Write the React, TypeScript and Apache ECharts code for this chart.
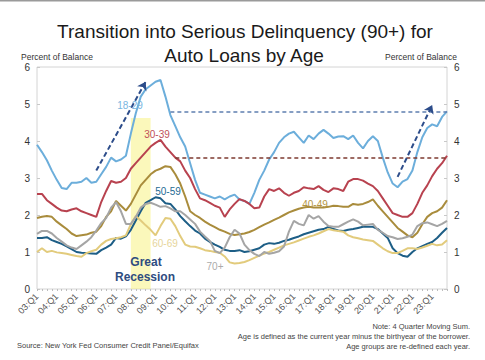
import React, { useEffect, useRef } from "react";
import * as echarts from "echarts";

// Quarterly categories 03:Q1 .. 23:Q4
const years = ["03","04","05","06","07","08","09","10","11","12","13","14","15","16","17","18","19","20","21","22","23"];
const quarters = ["Q1","Q2","Q3","Q4"];
const categories: string[] = [];
years.forEach((y) => quarters.forEach((q) => categories.push(`${y}:${q}`)));

const yTicks = [0, 1, 2, 3, 4, 5, 6];

const s1829 = [
  3.9, 3.7, 3.48, 3.2, 2.95, 2.73, 2.7, 2.87, 2.87, 2.9,
  3.0, 2.87, 2.9, 3.1, 3.3, 3.55, 3.45, 3.5, 3.6, 4.2,
  4.75, 5.2, 5.4, 5.5, 5.6, 5.65, 5.2, 4.7, 4.4, 4.1,
  3.85, 3.4, 2.95, 2.6, 2.55, 2.5, 2.45, 2.5, 2.42, 2.5,
  2.55, 2.42, 2.38, 2.3, 2.6, 2.95, 3.2, 3.5, 3.7, 3.95,
  4.1, 4.2, 4.25, 4.1, 3.95, 4.15, 4.05, 4.2, 4.3, 4.2,
  4.08, 4.12, 4.13, 4.05, 4.15, 3.95, 3.8, 4.0, 4.13, 4.0,
  3.55, 3.15, 2.85, 2.75, 2.9, 2.97, 3.2, 3.7, 4.1, 4.35,
  4.45, 4.4, 4.65, 4.8,
];
const s3039 = [
  2.57, 2.57, 2.4, 2.3, 2.2, 2.12, 2.1, 2.15, 2.18, 2.1,
  2.05, 2.0, 1.95, 2.35, 2.65, 2.92, 2.87, 2.9, 3.0, 3.25,
  3.4, 3.55, 3.7, 3.85, 3.95, 4.03, 3.85, 3.7, 3.55, 3.45,
  3.2, 3.0, 2.7, 2.45, 2.4, 2.33, 2.25, 2.2, 1.95, 2.15,
  2.3, 2.43, 2.38, 2.3, 2.18, 2.2, 2.5, 2.7, 2.65, 2.72,
  2.6, 2.52, 2.6, 2.65, 2.75, 2.72, 2.7, 2.78, 2.68, 2.62,
  2.72, 2.7, 2.65, 2.9, 2.97, 2.97, 2.93, 2.85, 2.78, 2.65,
  2.45, 2.25, 2.05, 2.0, 1.95, 1.95, 2.05, 2.3, 2.6, 2.8,
  3.05, 3.25, 3.4, 3.6,
];
const s4049 = [
  1.92, 1.95, 1.97, 1.95, 1.82, 1.72, 1.62, 1.5, 1.43, 1.45,
  1.47, 1.52, 1.55, 1.7, 1.95, 2.1, 2.38, 2.25, 2.12, 2.3,
  2.55, 2.8, 2.95, 3.1, 3.2, 3.25, 3.32, 3.3, 3.1, 2.85,
  2.5, 2.1, 2.0, 1.92, 1.82, 1.74, 1.67, 1.6, 1.55, 1.49,
  1.46, 1.48, 1.5, 1.54, 1.6, 1.67, 1.74, 1.8, 1.87, 1.93,
  2.0, 2.07, 2.12, 2.17, 2.2, 2.22, 2.2, 2.2, 2.2, 2.22,
  2.25, 2.24, 2.22, 2.22, 2.3, 2.28, 2.3, 2.35, 2.42, 2.25,
  2.1, 1.95, 1.8, 1.65, 1.55, 1.45, 1.4, 1.52, 1.75, 1.95,
  2.05, 2.1, 2.2, 2.4,
];
const s5059 = [
  1.38, 1.38, 1.4, 1.32, 1.27, 1.22, 1.15, 1.08, 1.0, 0.98,
  0.97, 0.96, 0.95, 1.05, 1.12, 1.2, 1.38, 1.36, 1.42, 1.6,
  1.85, 2.1, 2.33, 2.4, 2.48, 2.45, 2.32, 2.3, 2.15, 1.97,
  1.83, 1.7, 1.58, 1.5, 1.36, 1.27, 1.2, 1.14, 1.06, 1.03,
  1.03, 1.05, 1.0, 1.02, 1.06, 1.1, 1.2, 1.24, 1.22, 1.25,
  1.3, 1.33, 1.38, 1.42, 1.48, 1.52, 1.56, 1.6, 1.62, 1.68,
  1.62, 1.58, 1.57, 1.6, 1.62, 1.65, 1.68, 1.68, 1.68, 1.62,
  1.5, 1.38, 1.1, 0.97, 0.9, 0.87, 1.0, 1.1, 1.16, 1.22,
  1.27, 1.38, 1.52, 1.65,
];
const s6069 = [
  1.0, 1.1, 1.0, 1.03, 0.99, 0.97, 0.95, 0.92, 0.89, 0.87,
  0.97, 1.02, 1.06, 1.2, 1.3, 1.35, 1.37, 1.4, 1.45, 1.75,
  1.97, 1.85, 1.72, 1.6, 1.45, 1.7, 1.92, 1.9, 1.7, 1.43,
  1.2, 1.15, 1.14, 1.1, 1.05, 1.03, 1.0, 0.98, 0.88, 0.72,
  0.69, 0.7, 0.73, 0.78, 0.84, 0.9, 0.96, 1.0, 1.06, 1.12,
  1.18, 1.22, 1.26, 1.31, 1.36, 1.41, 1.45, 1.5, 1.56, 1.62,
  1.59, 1.57, 1.55, 1.45, 1.4, 1.37, 1.34, 1.32, 1.3, 1.2,
  1.1, 1.02, 0.97, 0.97, 1.03, 1.1, 1.1, 1.08, 1.12, 1.17,
  1.22, 1.18, 1.2, 1.32,
];
const s70 = [
  1.49, 1.57, 1.57, 1.5, 1.38, 1.28, 1.18, 1.12, 1.08, 1.18,
  1.28, 1.4, 1.58, 1.78, 1.92, 2.2, 2.35, 2.1, 1.76, 1.76,
  1.95, 2.2, 2.3, 2.33, 2.28, 2.22, 2.24, 2.18, 2.1, 2.1,
  2.0, 1.88, 1.76, 1.55, 1.42, 1.3, 1.03, 0.97, 1.12, 1.4,
  1.6, 1.5, 1.2, 1.05, 0.95, 0.89, 1.0, 0.95, 0.98, 1.02,
  1.15, 1.55, 1.84, 1.76, 1.72, 2.0, 1.9, 1.97, 1.82, 1.7,
  1.68, 1.68, 1.75, 1.82, 1.88, 1.82, 1.72, 1.74, 1.76, 1.6,
  1.52, 1.43, 1.4, 1.35, 1.37, 1.41, 1.47, 1.7, 1.78, 1.8,
  1.75, 1.7, 1.76, 1.84,
];

const seriesNames = ["18-29", "30-39", "40-49", "50-59", "60-69", "70+"];
const seriesData = [s1829, s3039, s4049, s5059, s6069, s70];
const colors = ["#6CAEDB", "#B8424F", "#A98C3C", "#1D5E86", "#E2CB7C", "#A5A5A5"];

// Recession shading (category index range) and top
const recessionRange = ["07:Q4", "08:Q4"];
const recessionTop = 4.62;
// Reference levels (dashed)
const levelYoung = 4.78;
const level3039 = 3.56;
// Trend arrows [startIndex, startValue, endIndex, endValue]
const arrow1 = [12, 3.2, 22.2, 5.6];
const arrow2 = [73, 3.03, 80.2, 4.97];

const notes = [
  "Note: 4 Quarter Moving Sum.",
  "Age is defined as the current year minus the birthyear of the borrower.",
  "Age groups are re-defined each year.",
];
const source = "Source: New York Fed Consumer Credit Panel/Equifax";

export default function App() {
  const ref = useRef<HTMLDivElement>(null);
  useEffect(() => {
    if (!ref.current) return;
    const chart = echarts.init(ref.current, null, { renderer: "svg" });
    const font = "Liberation Sans, Arial, sans-serif";
    const yAxisBase = {
      type: "value",
      min: 0,
      max: 6,
      interval: 1,
      splitLine: { show: false },
      axisLine: { show: false },
      axisTick: { show: true, inside: true, length: 3, lineStyle: { color: "#c8c8c8" } },
      axisLabel: { color: "#333", fontSize: 10, fontFamily: font, margin: 7 },
    };
    const lines = seriesNames.map((name, k) => ({
      name,
      type: "line",
      data: seriesData[k],
      symbol: "none",
      lineStyle: { color: colors[k], width: 2 },
      z: 2,
    }));
    const option: any = {
      animation: false,
      textStyle: { fontFamily: font },
      grid: { left: 37, right: 38, top: 67, bottom: 71, show: true, borderColor: "#d4d4d4", borderWidth: 1 },
      xAxis: {
        type: "category",
        data: categories,
        boundaryGap: false,
        axisLine: { show: false },
        axisTick: { show: true, interval: 0, length: 2, lineStyle: { color: "#bdbdbd" } },
        axisLabel: {
          interval: (i: number) => i % 4 === 0,
          rotate: 45,
          fontSize: 9,
          color: "#555",
          fontFamily: font,
          margin: 6,
        },
        splitLine: { show: false },
      },
      yAxis: [
        { ...yAxisBase, position: "left", data: yTicks },
        { ...yAxisBase, position: "right" },
      ],
      series: [
        ...lines,
        {
          type: "line",
          data: [],
          z: 10,
          silent: true,
          markArea: {
            silent: true,
            itemStyle: { color: "rgba(247,242,120,0.5)" },
            data: [[{ xAxis: recessionRange[0], yAxis: 0 }, { xAxis: recessionRange[1], yAxis: recessionTop }]],
          },
          markLine: {
            silent: true,
            label: { show: false },
            data: [
              [
                { coord: [27, levelYoung], symbol: "none", lineStyle: { color: "#5F7FB0", type: [4, 3], width: 1.5 } },
                { coord: [83, levelYoung], symbol: "none" },
              ],
              [
                { coord: [28, level3039], symbol: "none", lineStyle: { color: "#7E3A30", type: [4, 3], width: 1.5 } },
                { coord: [83, level3039], symbol: "none" },
              ],
              [
                { coord: [arrow1[0], arrow1[1]], symbol: "none", lineStyle: { color: "#2C4C8A", type: [5, 3], width: 2 } },
                { coord: [arrow1[2], arrow1[3]], symbol: "arrow", symbolSize: 8 },
              ],
              [
                { coord: [arrow2[0], arrow2[1]], symbol: "none", lineStyle: { color: "#2C4C8A", type: [5, 3], width: 2 } },
                { coord: [arrow2[2], arrow2[3]], symbol: "arrow", symbolSize: 8 },
              ],
            ],
          },
        },
      ],
      graphic: [
        { type: "rect", shape: { x: 0, y: 0, width: 485, height: 1.5 }, style: { fill: "#9a9a9a" } },
        { type: "text", x: 245, y: 31, style: { text: "Transition into Serious Delinquency (90+) for", fontSize: 19, fill: "#1a1a1a", fontFamily: font, align: "center", verticalAlign: "middle" } },
        { type: "text", x: 244, y: 55, style: { text: "Auto Loans by Age", fontSize: 19, fill: "#1a1a1a", fontFamily: font, align: "center", verticalAlign: "middle" } },
        { type: "text", x: 57, y: 57, style: { text: "Percent of Balance", fontSize: 8.5, fill: "#333", fontFamily: font, align: "center", verticalAlign: "middle" } },
        { type: "text", x: 421, y: 57, style: { text: "Percent of Balance", fontSize: 8.5, fill: "#333", fontFamily: font, align: "center", verticalAlign: "middle" } },
        { type: "text", x: 130, y: 105, z: 20, style: { text: "18-29", fontSize: 10, fill: "#7AB6DF", fontFamily: font, align: "center", verticalAlign: "middle" } },
        { type: "text", x: 157, y: 134, z: 20, style: { text: "30-39", fontSize: 10, fill: "#C0505A", fontFamily: font, align: "center", verticalAlign: "middle" } },
        { type: "text", x: 168, y: 191, z: 20, style: { text: "50-59", fontSize: 10, fill: "#246A93", fontFamily: font, align: "center", verticalAlign: "middle" } },
        { type: "text", x: 165, y: 243, z: 20, style: { text: "60-69", fontSize: 10, fill: "#E6D59A", fontFamily: font, align: "center", verticalAlign: "middle" } },
        { type: "text", x: 215, y: 266, z: 20, style: { text: "70+", fontSize: 10, fill: "#ABABAB", fontFamily: font, align: "center", verticalAlign: "middle" } },
        { type: "text", x: 315, y: 204, z: 20, style: { text: "40-49", fontSize: 10, fill: "#B39443", fontFamily: font, align: "center", verticalAlign: "middle" } },
        { type: "text", x: 146, y: 262, z: 20, style: { text: "Great", fontSize: 12, fontWeight: "bold", fill: "#2F4C80", fontFamily: font, align: "center", verticalAlign: "middle" } },
        { type: "text", x: 145, y: 277, z: 20, style: { text: "Recession", fontSize: 12, fontWeight: "bold", fill: "#2F4C80", fontFamily: font, align: "center", verticalAlign: "middle" } },
        { type: "text", x: 470, y: 326, style: { text: notes[0], fontSize: 7.5, fill: "#444", fontFamily: font, align: "right", verticalAlign: "middle" } },
        { type: "text", x: 470, y: 336, style: { text: notes[1], fontSize: 7.5, fill: "#444", fontFamily: font, align: "right", verticalAlign: "middle" } },
        { type: "text", x: 470, y: 346, style: { text: notes[2], fontSize: 7.5, fill: "#444", fontFamily: font, align: "right", verticalAlign: "middle" } },
        { type: "text", x: 17, y: 345, style: { text: source, fontSize: 7.5, fill: "#444", fontFamily: font, align: "left", verticalAlign: "middle" } },
      ],
    };
    chart.setOption(option);
    return () => chart.dispose();
  }, []);
  return (
    <div
      ref={ref}
      style={{ position: "fixed", left: 0, top: 0, width: 485, height: 360, background: "#fff" }}
    />
  );
}
